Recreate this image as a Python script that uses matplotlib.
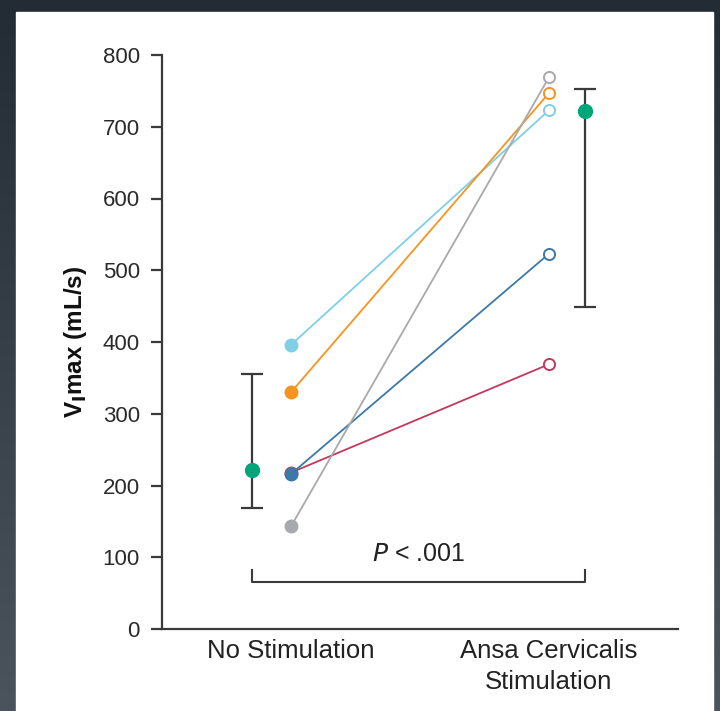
import numpy as np
import matplotlib.pyplot as plt
from matplotlib.colors import LinearSegmentedColormap

plt.rcParams['font.family'] = ['Liberation Sans', 'DejaVu Sans']

# conditions and per-subject values (mL/s)
conditions = ['No Stimulation', 'Ansa Cervicalis\nStimulation']
subjects = ['light blue', 'orange', 'red', 'blue', 'gray']
no_stim = [396, 330, 218, 216, 143]
ansa_stim = [723, 747, 369, 523, 769]
colors = ['#7fcfe6', '#f7941d', '#c4385d', '#3c78a8', '#a7a9ac']

# group summary (median with range)
summary_mid = [221, 722]
summary_low = [168, 449]
summary_high = [356, 753]

p_text = '$\\mathit{P}$ < .001'

fig = plt.figure(figsize=(7.2, 7.11), dpi=100)

# dark gradient frame behind the white panel
bg = fig.add_axes([0, 0, 1, 1], zorder=-10)
grad = np.linspace(0, 1, 256).reshape(-1, 1)
cm = LinearSegmentedColormap.from_list('bg', ['#232b34', '#4b545d'])
bg.imshow(grad, aspect='auto', cmap=cm, extent=[0, 1, 0, 1], origin='upper')
bg.add_patch(plt.Rectangle((16 / 720, 0), (713 - 16) / 720, (711 - 12) / 711,
                           color='white', transform=bg.transAxes))
bg.set_xlim(0, 1)
bg.set_ylim(0, 1)
bg.axis('off')

ax = fig.add_axes([162 / 720, (711 - 629) / 711, (678 - 162) / 720, (629 - 55) / 711])
ax.patch.set_alpha(0)

for a, b, c in zip(no_stim, ansa_stim, colors):
    ax.plot([0, 1], [a, b], color=c, lw=1.3, zorder=2)
    ax.plot(0, a, 'o', ms=9, color=c, zorder=3)
    ax.plot(1, b, 'o', ms=8, mfc='white', mec=c, mew=1.4, zorder=3)

xs = [-0.15, 1.14]
yerr = [np.array(summary_mid) - np.array(summary_low),
        np.array(summary_high) - np.array(summary_mid)]
ax.errorbar(xs, summary_mid, yerr=yerr, fmt='none', ecolor='#3a3a3a',
            elinewidth=1.6, capsize=8, capthick=1.6, zorder=2)
ax.plot(xs, summary_mid, 'o', ms=10, color='#00a57a', zorder=4)

# significance bracket
ax.plot([-0.15, -0.15, 1.14, 1.14], [82, 66, 66, 82], color='#3a3a3a', lw=1.5,
        clip_on=False)
ax.text(0.495, 88, p_text, ha='center', va='bottom', fontsize=18, color='#222222')

ax.set_xlim(-0.5, 1.5)
ax.set_ylim(0, 800)
ax.set_yticks(range(0, 801, 100))
ax.set_xticks([0, 1])
ax.set_xticklabels(conditions, fontsize=18.5, color='#222222', linespacing=1.4)
ax.tick_params(axis='x', length=0, pad=7)
ax.tick_params(axis='y', length=8, width=1.6, color='#3a3a3a', labelsize=16,
               labelcolor='#2a2a2a', pad=8)
ax.spines['top'].set_visible(False)
ax.spines['right'].set_visible(False)
for s in ['left', 'bottom']:
    ax.spines[s].set_linewidth(1.6)
    ax.spines[s].set_color('#3a3a3a')
ax.set_ylabel('V$_\\mathbf{I}$max (mL/s)', fontsize=17.5, fontweight='bold',
              color='#111111', labelpad=10)

fig.savefig('out.png', dpi=100)
